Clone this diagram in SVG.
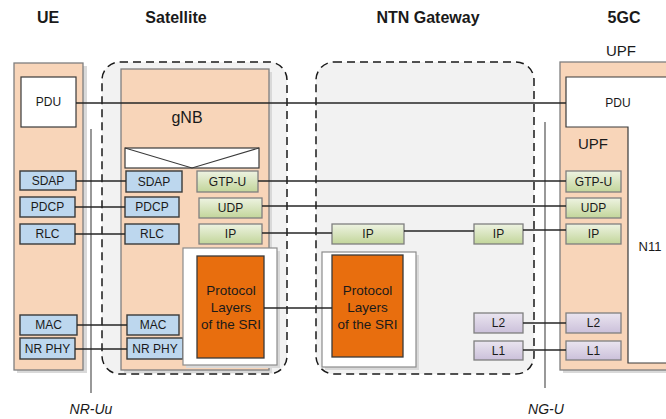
<svg xmlns="http://www.w3.org/2000/svg" width="666" height="419" viewBox="0 0 666 419">
<defs>
<linearGradient id="gGreen" x1="0" y1="0" x2="0" y2="1"><stop offset="0" stop-color="#EEF3E2"/><stop offset="1" stop-color="#C2D59A"/></linearGradient>
<linearGradient id="gPurple" x1="0" y1="0" x2="0" y2="1"><stop offset="0" stop-color="#EAE5F0"/><stop offset="1" stop-color="#CBC0DA"/></linearGradient>
<style>
text{font-family:"Liberation Sans",Arial,sans-serif;fill:#1a1a1a}
.title{font-size:16px;font-weight:bold;text-anchor:middle}
.lbl{font-size:12px;text-anchor:middle;dominant-baseline:central}
.big{font-size:15px;text-anchor:middle}
.sri{font-size:13.5px;text-anchor:middle;dominant-baseline:central}
.it{font-size:14px;font-style:italic;text-anchor:middle}
.peach{fill:#F8D5B9;stroke:#7F7F7F;stroke-width:1.3}
.shadow{fill:#D9D9D9}
.dash{fill:#F2F2F2;stroke:#1a1a1a;stroke-width:1.5;stroke-dasharray:8,5}
.blue{fill:#BDD7EE;stroke:#3A3A3A;stroke-width:1.4}
.green{fill:url(#gGreen);stroke:#7F7F7F;stroke-width:1.3}
.purple{fill:url(#gPurple);stroke:#7F7F7F;stroke-width:1.3}
.white{fill:#FFFFFF;stroke:#3A3A3A;stroke-width:1.2}
.wbox{fill:#FFFFFF;stroke:#8C8C8C;stroke-width:1.2}
.orange{fill:#E86E0E;stroke:#3A3A3A;stroke-width:1.3}
.conn line{stroke:#262626;stroke-width:1.3}
.ref{stroke:#7F7F7F;stroke-width:1.6}
</style>
</defs>

<g id="titles">
<text class="title" x="48" y="23">UE</text>
<text class="title" x="176" y="23">Satellite</text>
<text class="title" x="428" y="23">NTN Gateway</text>
<text class="title" x="624" y="23">5GC</text>
<text class="big" x="621" y="56">UPF</text>
</g>

<g id="ue">
<rect class="shadow" x="17" y="66" width="70" height="307"/>
<rect class="peach" x="14" y="63" width="69" height="307"/>
<g id="ue-pdu"><rect class="white" x="21" y="77" width="55" height="50"/><text class="lbl" x="48.5" y="102">PDU</text></g>
<g id="ue-sdap"><rect class="blue" x="20" y="171" width="56" height="19"/><text class="lbl" x="48" y="180.5">SDAP</text></g>
<g id="ue-pdcp"><rect class="blue" x="20" y="197" width="55" height="20"/><text class="lbl" x="47.5" y="207">PDCP</text></g>
<g id="ue-rlc"><rect class="blue" x="20" y="224" width="55" height="20"/><text class="lbl" x="47.5" y="234">RLC</text></g>
<g id="ue-mac"><rect class="blue" x="20" y="315" width="57" height="20"/><text class="lbl" x="48.5" y="325">MAC</text></g>
<g id="ue-phy"><rect class="blue" x="20" y="338" width="55" height="21"/><text class="lbl" x="47.5" y="348.5">NR PHY</text></g>
</g>

<g id="satellite">
<rect class="dash" x="102" y="62" width="185" height="312" rx="18"/>
<rect class="shadow" x="124" y="72" width="148" height="301"/>
<rect class="peach" x="121" y="69" width="148" height="301"/>
<text class="big" x="187" y="123" style="font-size:16px">gNB</text>
<g id="gnb-top"><rect class="white" x="125" y="148" width="134" height="20"/><polyline points="125,148 192,168 259,148" fill="none" stroke="#3A3A3A" stroke-width="1.1"/></g>
<g id="gnb-sdap"><rect class="blue" x="126" y="171" width="56" height="21"/><text class="lbl" x="154" y="181.5">SDAP</text></g>
<g id="gnb-pdcp"><rect class="blue" x="125" y="197" width="54" height="20"/><text class="lbl" x="152" y="207">PDCP</text></g>
<g id="gnb-rlc"><rect class="blue" x="125" y="224" width="54" height="20"/><text class="lbl" x="152" y="234">RLC</text></g>
<g id="gnb-mac"><rect class="blue" x="127" y="315" width="52" height="20"/><text class="lbl" x="153" y="325">MAC</text></g>
<g id="gnb-phy"><rect class="blue" x="127" y="338" width="56" height="21"/><text class="lbl" x="155" y="348.5">NR PHY</text></g>
<g id="gnb-gtpu"><rect class="green" x="197" y="171" width="61" height="21"/><text class="lbl" x="227.5" y="181.5">GTP-U</text></g>
<g id="gnb-udp"><rect class="green" x="199" y="198" width="63" height="20"/><text class="lbl" x="230.5" y="208">UDP</text></g>
<g id="gnb-ip"><rect class="green" x="199" y="224" width="63" height="20"/><text class="lbl" x="230.5" y="234">IP</text></g>
<g id="gnb-sri">
<rect class="shadow" x="186" y="251" width="94" height="117"/>
<rect class="wbox" x="183" y="248" width="94" height="117"/>
<rect class="orange" x="197" y="256" width="67" height="102"/>
<text class="sri" x="231" y="290">Protocol</text>
<text class="sri" x="231" y="307">Layers</text>
<text class="sri" x="231" y="324">of the SRI</text>
</g>
</g>

<g id="ntn-gateway">
<rect class="dash" x="316" y="62" width="218" height="312" rx="18"/>
<g id="gw-ip1"><rect class="green" x="332" y="224" width="72" height="20"/><text class="lbl" x="368" y="234">IP</text></g>
<g id="gw-ip2"><rect class="green" x="474" y="224" width="49" height="20"/><text class="lbl" x="498.5" y="234">IP</text></g>
<g id="gw-l2"><rect class="purple" x="474" y="313" width="49" height="20"/><text class="lbl" x="498.5" y="323">L2</text></g>
<g id="gw-l1"><rect class="purple" x="474" y="341" width="49" height="19"/><text class="lbl" x="498.5" y="350.5">L1</text></g>
<g id="gw-sri">
<rect class="shadow" x="325" y="255" width="94" height="115"/>
<rect class="wbox" x="322" y="252" width="94" height="115"/>
<rect class="orange" x="332" y="255" width="71" height="102"/>
<text class="sri" x="367.5" y="290">Protocol</text>
<text class="sri" x="367.5" y="307">Layers</text>
<text class="sri" x="367.5" y="324">of the SRI</text>
</g>
</g>

<g id="upf">
<rect class="shadow" x="563" y="65" width="110" height="308"/>
<rect class="peach" x="560" y="62" width="110" height="308"/>
<path d="M670,77 H566 V127 H628 V363 H670 Z" fill="#FFFFFF" stroke="none"/>
<path d="M670,77 H566 V127 H628 V363 H670" fill="none" stroke="#3A3A3A" stroke-width="1.2"/>
<text class="lbl" x="618" y="103">PDU</text>
<text class="big" x="593" y="149">UPF</text>
<text x="650" y="251" style="font-size:13px;text-anchor:middle">N11</text>
<g id="upf-gtpu"><rect class="green" x="566" y="171" width="55" height="21"/><text class="lbl" x="593.5" y="181.5">GTP-U</text></g>
<g id="upf-udp"><rect class="green" x="566" y="198" width="55" height="20"/><text class="lbl" x="593.5" y="208">UDP</text></g>
<g id="upf-ip"><rect class="green" x="566" y="224" width="55" height="20"/><text class="lbl" x="593.5" y="234">IP</text></g>
<g id="upf-l2"><rect class="purple" x="566" y="313" width="55" height="20"/><text class="lbl" x="593.5" y="323">L2</text></g>
<g id="upf-l1"><rect class="purple" x="566" y="341" width="55" height="19"/><text class="lbl" x="593.5" y="350.5">L1</text></g>
</g>

<g id="interfaces">
<line class="ref" x1="91" y1="129" x2="91" y2="393"/>
<text class="it" x="91" y="414">NR-Uu</text>
<line class="ref" x1="545" y1="122" x2="545" y2="388"/>
<text class="it" x="546" y="414">NG-U</text>
</g>

<g id="connectors" class="conn">
<line x1="76" y1="103" x2="566" y2="103"/>
<line x1="76" y1="181" x2="126" y2="181"/>
<line x1="75" y1="207" x2="125" y2="207"/>
<line x1="75" y1="234" x2="125" y2="234"/>
<line x1="77" y1="325" x2="127" y2="325"/>
<line x1="75" y1="349" x2="127" y2="349"/>
<line x1="258" y1="181" x2="566" y2="181"/>
<line x1="262" y1="206" x2="566" y2="206"/>
<line x1="262" y1="233" x2="332" y2="233"/>
<line x1="404" y1="231" x2="474" y2="231"/>
<line x1="523" y1="230" x2="566" y2="230"/>
<line x1="264" y1="308" x2="332" y2="308"/>
<line x1="523" y1="323" x2="566" y2="323"/>
<line x1="523" y1="350" x2="566" y2="350"/>
</g>
</svg>
